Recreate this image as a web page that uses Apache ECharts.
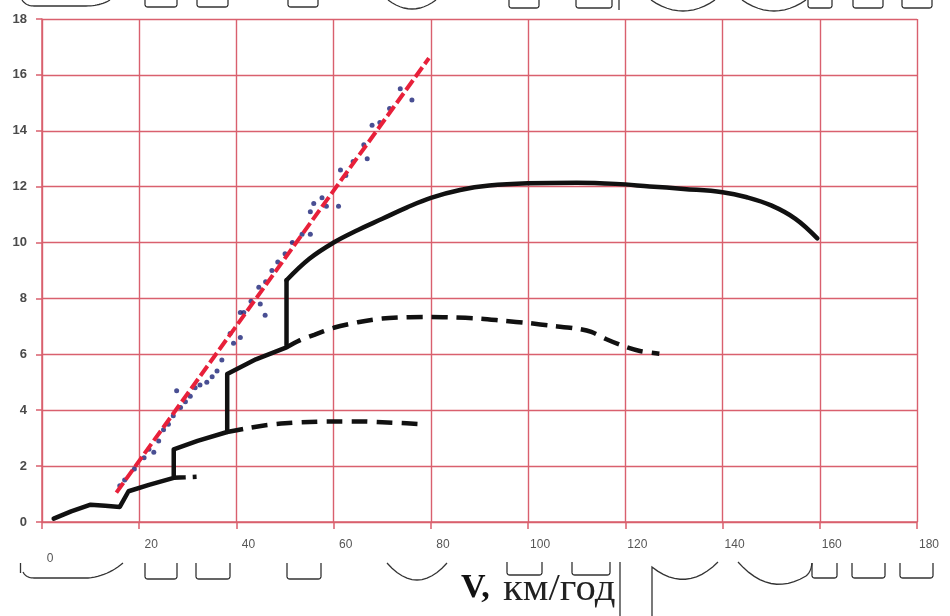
<!DOCTYPE html>
<html>
<head>
<meta charset="utf-8">
<script src="https://cdn.jsdelivr.net/npm/echarts@6/dist/echarts.min.js"></script>
<style>
  html, body { margin: 0; padding: 0; background: #ffffff; }
  #chart { width: 950px; height: 616px; }
</style>
</head>
<body>
<div id="chart"></div>
<script>
// Tick labels of the speed axis (km/h) and force axis
const speedLabels = [0, 20, 40, 60, 80, 100, 120, 140, 160, 180];
const forceLabels = [0, 2, 4, 6, 8, 10, 12, 14, 16, 18];

// Traction characteristic in the lower gears, with the gear-shift steps (solid line)
const tractionLow = [
  [2.4, 0.12], [6, 0.38], [10, 0.62], [13, 0.58], [16, 0.54],
  [17.8, 1.1], [22, 1.33], [27.1, 1.58],
  [27.1, 2.6], [32, 2.9], [38.1, 3.22],
  [38.1, 5.3], [44, 5.82], [50.3, 6.25],
  [50.3, 8.65]
];
// Top gear, from the last shift point to maximum speed (solid line)
const tractionTop = [
  [50.3, 8.65], [55, 9.42], [60, 10.0], [65, 10.45], [70, 10.85], [75, 11.25],
  [80, 11.6], [86, 11.88], [92, 12.04], [100, 12.12], [110, 12.14], [118, 12.1],
  [125, 12.01], [132, 11.92], [140, 11.8], [145, 11.62],
  [150, 11.33], [155, 10.85], [159.5, 10.15]
];

// Lower gears continued past their shift points (dashed lines)
const gear1Tail = [[27.1, 1.58], [29.5, 1.6], [31.8, 1.62]];
const gear2Tail = [
  [38.1, 3.22], [42, 3.35], [46, 3.46], [50, 3.53], [55, 3.58], [60, 3.6],
  [65, 3.6], [70, 3.57], [75, 3.53], [78.5, 3.5]
];
const gear3Tail = [
  [50.3, 6.25], [53, 6.5], [56, 6.7], [60, 6.95], [65, 7.15], [70, 7.28],
  [75, 7.33], [80, 7.34], [85, 7.32], [90, 7.28], [95, 7.2], [100, 7.12],
  [105, 7.02], [110, 6.92], [113, 6.8], [116, 6.55], [120, 6.27], [123, 6.12],
  [127, 6.02]
];

// Measured points
const measured = [
  [16, 1.3], [17, 1.5], [19, 1.9], [21, 2.3], [22, 2.6], [23, 2.5], [24, 2.9],
  [25, 3.3], [26, 3.5], [27, 3.8], [27.7, 4.7], [28.5, 4.1], [29.5, 4.3],
  [30.5, 4.5], [31.5, 4.8], [32.5, 4.9], [33.9, 5.0], [35, 5.2], [36, 5.4],
  [37, 5.8], [38.7, 6.75], [39.4, 6.4], [40.8, 6.6], [40.8, 7.5], [41.5, 7.5],
  [43, 7.9], [44.6, 8.4], [44.9, 7.8], [45.9, 7.4], [46, 8.6], [47.3, 9.0],
  [48.5, 9.3], [50, 9.6], [51.5, 10.0], [53.5, 10.3], [55.2, 10.3], [55.2, 11.1],
  [55.9, 11.4], [57.6, 11.6], [58.5, 11.3], [61, 11.3], [61.4, 12.6], [62.5, 12.4],
  [64, 12.9], [66.2, 13.5], [66.9, 13.0], [67.9, 14.2], [69.5, 14.3], [71.5, 14.8],
  [73.7, 15.5], [76.1, 15.1]
];

// Fitted straight line through the measured points
const fitLine = [[15.3, 1.05], [79.6, 16.6]];

const gridRed = '#d9606e';
const curveColor = '#111111';

// Thin strokes of cut-off lettering above and below the plot
function cup(x1, x2, y0, y1) {
  return `M${x1},${y0} L${x1},${y1 - 3} Q${x1},${y1} ${x1 + 3},${y1} L${x2 - 3},${y1} Q${x2},${y1} ${x2},${y1 - 3} L${x2},${y0}`;
}
const strokePaths = [
  'M22,0 Q26,6 34,6 L86,6 Q100,6 110,0',
  cup(145, 177, 0, 7), cup(197, 228, 0, 7), cup(288, 318, 0, 7),
  'M388,0 Q412,18 436,0',
  cup(509, 539, 0, 8), cup(576, 612, 0, 8), 'M619,0 L619,10',
  'M651,0 Q683,22 715,0', 'M742,0 Q774,22 806,0',
  cup(808, 832, 0, 8), cup(853, 883, 0, 8), cup(902, 932, 0, 8),
  'M20.5,563 L20.5,573',
  'M23,572 Q26,578 34,578 L88,578 Q108,576 123,563',
  cup(145, 177, 563, 579), cup(196, 230, 563, 579), cup(287, 321, 563, 579),
  'M387,563 Q417,597 447,563',
  cup(507, 542, 562, 575), cup(572, 610, 562, 575),
  'M620,562 L620,616',
  'M652,616 L652,567 Q686,594 718,562',
  'M738,562 Q770,598 806,576 Q811,572 812,563',
  cup(812, 837, 563, 578), cup(852, 885, 563, 578), cup(900, 933, 563, 578)
];

// Turn the simple M/L/Q path strings into point lists for polylines
function toPoints(d) {
  const tok = d.match(/[MLQ]|-?\d+(\.\d+)?/g);
  const pts = [];
  let i = 0, cur = [0, 0];
  while (i < tok.length) {
    const c = tok[i++];
    if (c === 'M' || c === 'L') {
      cur = [+tok[i++], +tok[i++]];
      pts.push(cur);
    } else if (c === 'Q') {
      const cx = +tok[i++], cy = +tok[i++], ex = +tok[i++], ey = +tok[i++];
      const s = cur;
      for (let k = 1; k <= 12; k++) {
        const t = k / 12, u = 1 - t;
        pts.push([u * u * s[0] + 2 * u * t * cx + t * t * ex, u * u * s[1] + 2 * u * t * cy + t * t * ey]);
      }
      cur = [ex, ey];
    }
  }
  return pts;
}

const chart = echarts.init(document.getElementById('chart'), null, { renderer: 'canvas' });

const labelFont = 'Liberation Sans Narrow, Liberation Sans, sans-serif';

const option = {
  backgroundColor: '#ffffff',
  animation: false,
  grid: { left: 42, top: 19, right: 33, bottom: 94, containLabel: false },
  xAxis: {
    type: 'value', min: 0, max: 180, interval: 10,
    axisLine: { show: true, lineStyle: { color: gridRed, width: 1.5 } },
    axisTick: { show: true, customValues: speedLabels, length: 7, lineStyle: { color: gridRed, width: 1.5 } },
    splitLine: { show: true, lineStyle: { color: gridRed, width: 1.4 } },
    axisLabel: {
      customValues: speedLabels,
      formatter: v => (v === 0 ? '{z|0}' : '{n|' + v + '}'),
      margin: 17,
      rich: {
        n: { color: '#555', fontSize: 12, fontFamily: labelFont, padding: [0, 0, 0, 24] },
        z: { color: '#555', fontSize: 12, fontFamily: labelFont, padding: [14, 0, 0, 16] }
      }
    }
  },
  yAxis: {
    type: 'value', min: 0, max: 18, interval: 2,
    axisLine: { show: true, lineStyle: { color: gridRed, width: 1.5 } },
    axisTick: { show: true, length: 6, lineStyle: { color: gridRed, width: 1.5 } },
    splitLine: { show: true, lineStyle: { color: gridRed, width: 1.4 } },
    axisLabel: {
      customValues: forceLabels,
      color: '#4a4a4a', fontSize: 13, fontWeight: 'bold',
      fontFamily: labelFont,
      margin: 15
    }
  },
  series: [
    {
      name: 'tractionLow', type: 'line', data: tractionLow, showSymbol: false, smooth: false,
      lineStyle: { color: curveColor, width: 4.5, join: 'round', cap: 'round' }, z: 3
    },
    {
      name: 'tractionTop', type: 'line', data: tractionTop, showSymbol: false, smooth: 0.4,
      lineStyle: { color: curveColor, width: 4.5, join: 'round', cap: 'round' }, z: 3
    },
    {
      name: 'gear1', type: 'line', data: gear1Tail, showSymbol: false,
      lineStyle: { color: curveColor, width: 4.5, type: [12, 7] }, z: 3
    },
    {
      name: 'gear2', type: 'line', data: gear2Tail, showSymbol: false, smooth: 0.3,
      lineStyle: { color: curveColor, width: 4.5, type: [16, 9] }, z: 3
    },
    {
      name: 'gear3', type: 'line', data: gear3Tail, showSymbol: false, smooth: 0.3,
      lineStyle: { color: curveColor, width: 4.5, type: [16, 9] }, z: 3
    },
    {
      name: 'measured', type: 'scatter', data: measured, symbol: 'circle', symbolSize: 5,
      itemStyle: { color: '#1b2378' }, z: 4
    },
    {
      name: 'fit', type: 'line', data: fitLine, showSymbol: false,
      lineStyle: { color: '#e8203a', width: 4, type: [12, 4] }, z: 5
    }
  ],
  graphic: [
    ...strokePaths.map(d => ({
      type: 'polyline', silent: true, shape: { points: toPoints(d) },
      style: { fill: null, stroke: '#333', lineWidth: 1.3 }
    })),
    {
      type: 'text', left: 461, top: 571,
      style: { text: 'V,', font: 'bold 34px "Liberation Serif", serif', fill: '#111' }
    },
    {
      type: 'text', x: 503, y: 572, scaleX: 1.1,
      style: { text: 'км/год', font: '37px "Liberation Serif", serif', fill: '#222', textBaseline: 'top' }
    }
  ]
};

chart.setOption(option);
</script>
</body>
</html>
